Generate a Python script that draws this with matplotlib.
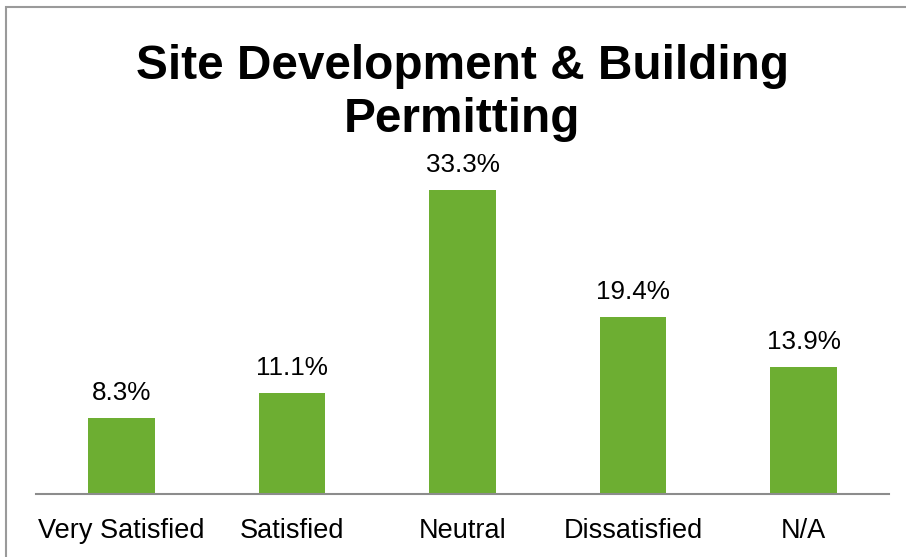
import matplotlib
matplotlib.use("Agg")
import matplotlib.pyplot as plt
from matplotlib.patches import Rectangle

# Survey responses
categories = ["Very Satisfied", "Satisfied", "Neutral", "Dissatisfied", "N/A"]
percents = [8.3, 11.1, 33.3, 19.4, 13.9]

plt.rcParams["font.family"] = ["Liberation Sans", "DejaVu Sans"]

fig = plt.figure(figsize=(9.06, 5.57), dpi=100)
ax = fig.add_axes([36 / 906, 63 / 557, 853 / 906, 344 / 557])

x = range(len(categories))
bars = ax.bar(x, percents, width=0.39, color="#6DAE32")
for b, v in zip(bars, percents):
    ax.text(b.get_x() + b.get_width() / 2, v + 1.4, f"{v:.1f}%",
            ha="center", va="bottom", fontsize=18.8)

ax.set_xlim(-0.5, len(categories) - 0.5)
ax.set_ylim(0, 37.7)
ax.set_xticks(list(x))
ax.set_xticklabels(categories, fontsize=19.5)
ax.tick_params(axis="x", length=0, pad=17)
ax.set_yticks([])
for s in ["top", "right", "left"]:
    ax.spines[s].set_visible(False)
ax.spines["bottom"].set_color("#8c8c8c")
ax.spines["bottom"].set_linewidth(1.5)

fig.text(0.51, 0.921, "Site Development & Building\nPermitting", ha="center", va="top",
         fontsize=34.4, fontweight="bold", linespacing=1.23)

# chart frame, open on the right and bottom
fig.patches.append(Rectangle((6 / 906, -0.1), 1.2, (557 - 7) / 557 + 0.1,
                             transform=fig.transFigure, fill=False,
                             edgecolor="#9a9a9a", linewidth=1.5))

fig.savefig("out.png", dpi=100)
